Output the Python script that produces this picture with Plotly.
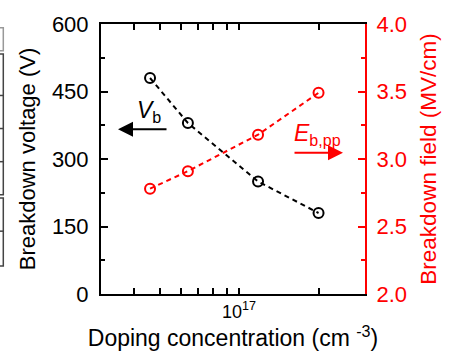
import plotly.graph_objects as go

doping = [4.6e16, 6.4e16, 1.18e17, 2.0e17]
vb = [480, 380, 250, 180]
eb = [2.78, 2.91, 3.18, 3.49]

x_major = [1e17]
x_minor = [4e16, 5e16, 6e16, 7e16, 8e16, 9e16, 2e17]

FONT = "Liberation Sans, Arial, sans-serif"
RED = "#ff0000"

fig = go.Figure()
fig.add_trace(go.Scatter(
    x=doping, y=vb, mode="lines+markers",
    line=dict(color="black", width=2, dash="5px,4px"),
    marker=dict(symbol="circle-open", size=10, color="black", line=dict(width=2)),
    showlegend=False))
fig.add_trace(go.Scatter(
    x=doping, y=eb, mode="lines+markers", yaxis="y2",
    line=dict(color=RED, width=2, dash="5px,4px"),
    marker=dict(symbol="circle-open", size=10, color=RED, line=dict(width=2)),
    showlegend=False))

fig.update_layout(
    width=450, height=354,
    margin=dict(l=101, r=85, t=23, b=59),
    paper_bgcolor="white", plot_bgcolor="white",
    font=dict(family=FONT, size=22, color="black"),
    xaxis=dict(
        type="log", range=[16.477, 17.477],
        tickvals=x_major, ticktext=["10<sup>17</sup>"],
        ticks="inside", ticklen=6, tickwidth=1.5, tickcolor="black",
        minor=dict(tickvals=x_minor, ticks="inside", ticklen=5, tickwidth=1.5, tickcolor="black"),
        showline=True, linewidth=2, linecolor="black", mirror="allticks",
        showgrid=False, zeroline=False,
        tickfont=dict(size=18),
        title=dict(text="Doping concentration (cm <sup>-3</sup>)", font=dict(size=23), standoff=4),
    ),
    yaxis=dict(
        range=[0, 600], tickvals=[0, 150, 300, 450, 600],
        ticks="inside", ticklen=7, tickwidth=1.5, tickcolor="black",
        minor=dict(tickvals=[75, 225, 375, 525], ticks="inside", ticklen=4, tickwidth=1.5, tickcolor="black"),
        showline=True, linewidth=2, linecolor="black",
        showgrid=False, zeroline=False,
        ticklabelstandoff=6,
        title=dict(text="Breakdown voltage (V)", font=dict(size=22), standoff=10),
    ),
    yaxis2=dict(
        range=[2.0, 4.0], tickvals=[2.0, 2.5, 3.0, 3.5, 4.0], ticktext=["2.0", "2.5", "3.0", "3.5", "4.0"],
        overlaying="y", side="right",
        ticks="inside", ticklen=7, tickwidth=1.5, tickcolor=RED,
        minor=dict(tickvals=[2.25, 2.75, 3.25, 3.75], ticks="inside", ticklen=4, tickwidth=1.5, tickcolor=RED),
        showline=True, linewidth=2, linecolor=RED,
        showgrid=False, zeroline=False,
        ticklabelstandoff=5,
        tickfont=dict(color=RED),
        title=dict(text="Breakdown field (MV/cm)", font=dict(size=22.5, color=RED), standoff=14),
    ),
)

# arrows and labels
fig.add_annotation(xref="paper", yref="paper", x=0.0644, y=0.610, ax=50, ay=0,
                   text="", showarrow=True, arrowhead=2, arrowsize=1.5, arrowwidth=2, arrowcolor="black")
fig.add_annotation(xref="paper", yref="paper", x=0.183, y=0.677, xanchor="center", yanchor="middle",
                   text="<i>V</i><sub>b</sub>", showarrow=False, font=dict(size=23, color="black"))
fig.add_annotation(xref="paper", yref="paper", x=0.9167, y=0.523, ax=-50, ay=0,
                   text="", showarrow=True, arrowhead=2, arrowsize=1.5, arrowwidth=2, arrowcolor=RED)
fig.add_annotation(xref="paper", yref="paper", x=0.820, y=0.592, xanchor="center", yanchor="middle",
                   text="<i>E</i><sub>b,pp</sub>", showarrow=False, font=dict(size=23, color=RED))

# partial boxes cut off at the left edge (neighbouring panel)
def px(xp):
    return (xp - 101) / 264
def py(yp):
    return (295 - yp) / 272

for (y0, y1, col) in [(26.7, 50, "#999999"), (53.3, 195, "#444444"), (198.3, 266.7, "#444444")]:
    fig.add_shape(type="rect", xref="paper", yref="paper",
                  x0=px(-20), x1=px(3.3), y0=py(y1), y1=py(y0),
                  line=dict(color=col, width=1.5))
for yl in [95, 128.3, 161.7, 231.7]:
    fig.add_shape(type="line", xref="paper", yref="paper",
                  x0=px(-20), x1=px(3.3), y0=py(yl), y1=py(yl),
                  line=dict(color="#444444", width=1.5))

fig.write_html("out.html", config={"displayModeBar": False},
               post_script="document.body.style.margin='0';document.body.style.overflow='hidden';")
